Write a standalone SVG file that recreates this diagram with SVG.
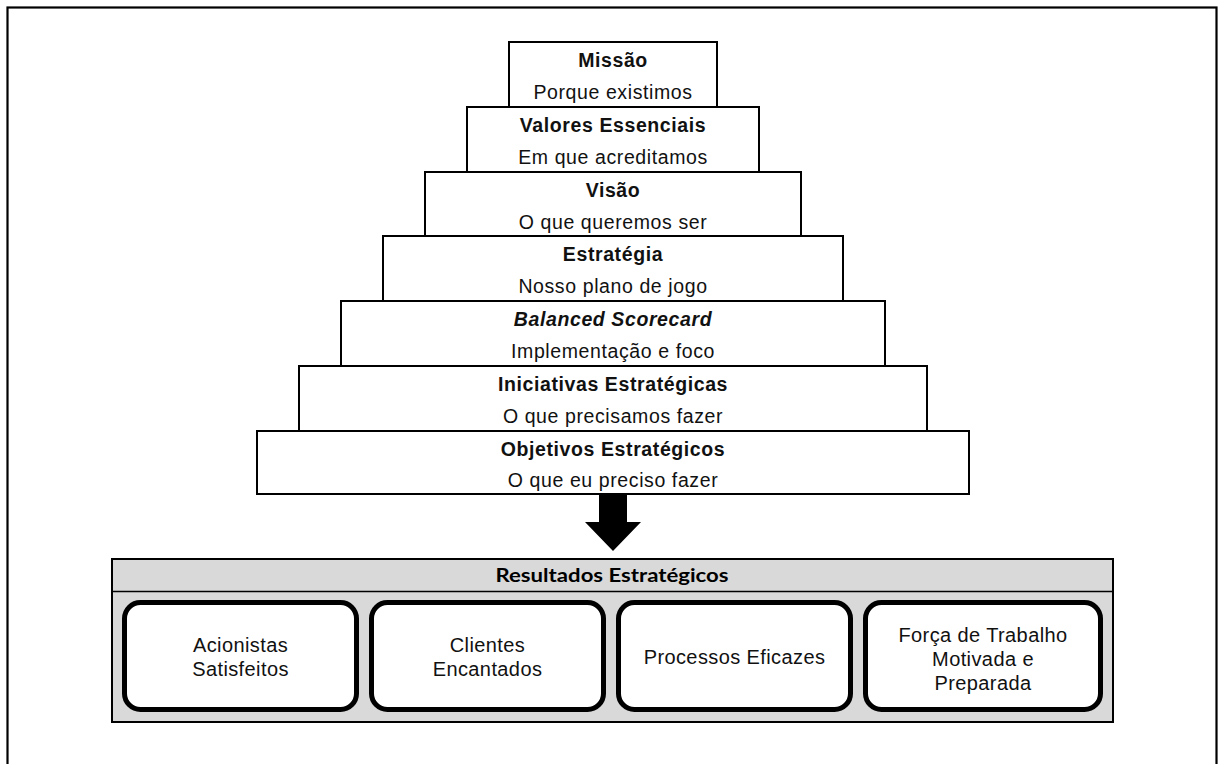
<svg xmlns="http://www.w3.org/2000/svg" width="1219" height="764" viewBox="0 0 1219 764">
  <style>
    .frame { fill: #ffffff; stroke: #000000; stroke-width: 2.2; }
    .tier { fill: #ffffff; stroke: #000000; stroke-width: 2; }
    .ttl { font-family: "Liberation Sans", Arial, sans-serif; font-size: 19.5px; font-weight: bold; fill: #111111; text-anchor: middle; letter-spacing: 0.6px; }
    .sub { font-family: "Liberation Sans", Arial, sans-serif; font-size: 19.5px; fill: #111111; text-anchor: middle; letter-spacing: 0.6px; }
    .panel { fill: #d9d9d9; stroke: #000000; stroke-width: 2; }
    .divider { stroke: #000000; stroke-width: 1.6; }
    .hdr { font-family: Lato, "Open Sans", sans-serif; font-size: 18px; font-weight: bold; fill: #000000; text-anchor: middle; }
    .card { fill: #ffffff; stroke: #000000; stroke-width: 5; }
    .lbl { font-family: "Liberation Sans", Arial, sans-serif; font-size: 20px; fill: #111111; text-anchor: middle; letter-spacing: 0.4px; }
  </style>

  <!-- outer page frame -->
  <rect class="frame" x="7.5" y="7.5" width="1209" height="800"/>

  <!-- stacked tiers, narrowest at the top -->
  <g id="missao">
    <rect class="tier" x="509" y="42" width="208" height="65"/>
    <text class="ttl" x="613" y="67">Missão</text>
    <text class="sub" x="613" y="99">Porque existimos</text>
  </g>
  <g id="valores">
    <rect class="tier" x="467" y="107" width="292" height="65"/>
    <text class="ttl" x="613" y="132">Valores Essenciais</text>
    <text class="sub" x="613" y="164">Em que acreditamos</text>
  </g>
  <g id="visao">
    <rect class="tier" x="425" y="172" width="376" height="64"/>
    <text class="ttl" x="613" y="197">Visão</text>
    <text class="sub" x="613" y="229">O que queremos ser</text>
  </g>
  <g id="estrategia">
    <rect class="tier" x="383" y="236" width="460" height="65"/>
    <text class="ttl" x="613" y="261">Estratégia</text>
    <text class="sub" x="613" y="293">Nosso plano de jogo</text>
  </g>
  <g id="balanced-scorecard">
    <rect class="tier" x="341" y="301" width="544" height="65"/>
    <text class="ttl" x="613" y="326" font-style="italic">Balanced Scorecard</text>
    <text class="sub" x="613" y="358">Implementação e foco</text>
  </g>
  <g id="iniciativas">
    <rect class="tier" x="299" y="366" width="628" height="65"/>
    <text class="ttl" x="613" y="391">Iniciativas Estratégicas</text>
    <text class="sub" x="613" y="423">O que precisamos fazer</text>
  </g>
  <g id="objetivos">
    <rect class="tier" x="257" y="431" width="712" height="63"/>
    <text class="ttl" x="613" y="456">Objetivos Estratégicos</text>
    <text class="sub" x="613" y="487">O que eu preciso fazer</text>
  </g>

  <!-- block arrow down to the results panel -->
  <g id="connectors">
    <polygon points="599,494 627,494 627,522 641,522 613,551 585,522 599,522" fill="#000000"/>
  </g>

  <!-- results panel with its four outcomes -->
  <g id="resultados">
    <rect class="panel" x="112" y="559" width="1001" height="163"/>
    <line class="divider" x1="112" y1="591.5" x2="1113" y2="591.5"/>
    <text class="hdr" x="612" y="582" textLength="233" lengthAdjust="spacingAndGlyphs">Resultados Estratégicos</text>
  </g>
  <g id="acionistas">
    <rect class="card" x="124.5" y="602.5" width="232" height="107" rx="16"/>
    <text class="lbl" x="240.5" y="652">Acionistas</text>
    <text class="lbl" x="240.5" y="676">Satisfeitos</text>
  </g>
  <g id="clientes">
    <rect class="card" x="371.5" y="602.5" width="232" height="107" rx="16"/>
    <text class="lbl" x="487.5" y="652">Clientes</text>
    <text class="lbl" x="487.5" y="676">Encantados</text>
  </g>
  <g id="processos">
    <rect class="card" x="618.5" y="602.5" width="232" height="107" rx="16"/>
    <text class="lbl" x="734.5" y="664">Processos Eficazes</text>
  </g>
  <g id="forca-trabalho">
    <rect class="card" x="865.5" y="602.5" width="235" height="107" rx="16"/>
    <text class="lbl" x="983" y="642">Força de Trabalho</text>
    <text class="lbl" x="983" y="666">Motivada e</text>
    <text class="lbl" x="983" y="690">Preparada</text>
  </g>
</svg>
